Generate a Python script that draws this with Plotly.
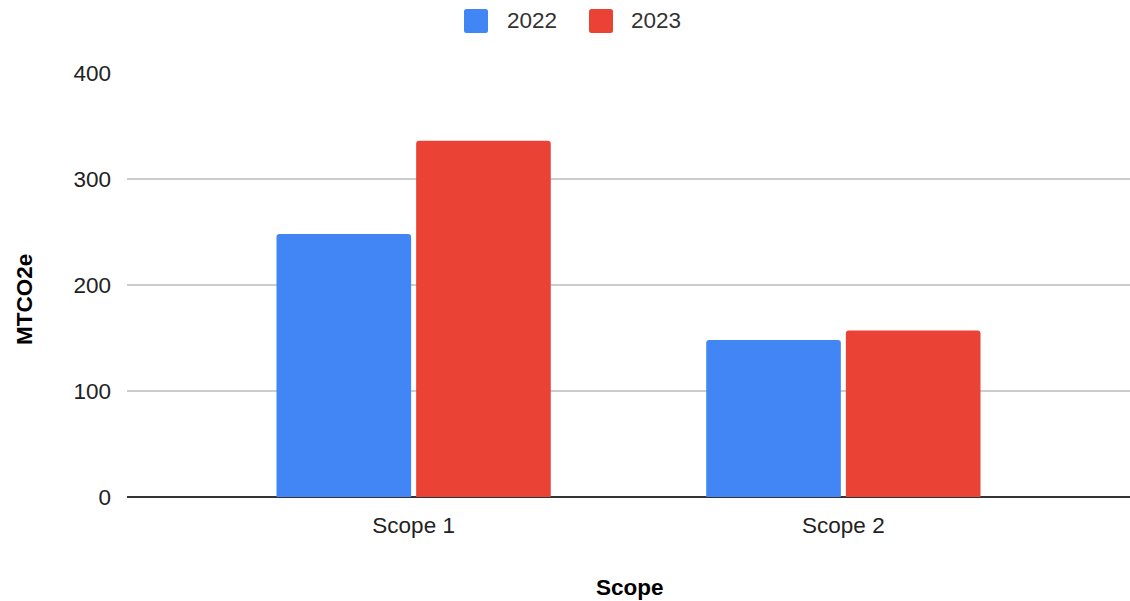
import plotly.graph_objects as go

# Emissions by scope, in metric tonnes CO2e
scopes = ["Scope 1", "Scope 2"]
years = ["2022", "2023"]
values_2022 = [248, 148]
values_2023 = [336, 157]
year_colors = ["#4285F4", "#EA4335"]

W, H = 1130, 601
M_L, M_R, M_T, M_B = 127, 0, 73, 104
PLOT_W = W - M_L - M_R
PLOT_H = H - M_T - M_B


def px_x(x):
    """Pixel column -> paper x."""
    return (x - M_L) / PLOT_W


def px_y(y):
    """Pixel row -> paper y."""
    return (H - M_B - y) / PLOT_H


fig = go.Figure()
for year, vals, color in zip(years, [values_2022, values_2023], year_colors):
    fig.add_trace(go.Bar(
        x=scopes, y=vals, name=year, showlegend=False,
        marker=dict(color=color, line=dict(width=0)),
    ))

font_family = "Liberation Sans, Arial, sans-serif"
text_color = "#222222"
fsize = 22.5

# Legend drawn as rounded swatches with labels, centred above the plot
shapes = []
annotations = []
legend_items = [(464, 505), (589, 629)]
for (sx, tx), year, color in zip(legend_items, years, year_colors):
    x0, x1, y0, y1 = px_x(sx), px_x(sx + 24), px_y(9), px_y(33)
    r = 2.5
    rx, ry = r / PLOT_W, r / PLOT_H
    path = (
        f"M {x0 + rx},{y0} L {x1 - rx},{y0} Q {x1},{y0} {x1},{y0 - ry} "
        f"L {x1},{y1 + ry} Q {x1},{y1} {x1 - rx},{y1} "
        f"L {x0 + rx},{y1} Q {x0},{y1} {x0},{y1 + ry} "
        f"L {x0},{y0 - ry} Q {x0},{y0} {x0 + rx},{y0} Z"
    )
    shapes.append(dict(type="path", xref="paper", yref="paper", path=path,
                       fillcolor=color, line=dict(width=0)))
    annotations.append(dict(
        text=year, xref="paper", yref="paper", x=px_x(tx), y=px_y(21),
        xanchor="left", yanchor="middle", showarrow=False,
        font=dict(size=fsize, color="#333333", family=font_family),
    ))

# Axis titles
annotations.append(dict(
    text="<b>Scope</b>", xref="paper", yref="paper", x=px_x(630), y=px_y(587),
    xanchor="center", yanchor="middle", showarrow=False,
    font=dict(size=fsize, color="#000000", family=font_family),
))
annotations.append(dict(
    text="<b>MTCO2e</b>", xref="paper", yref="paper", x=px_x(24), y=px_y(300),
    xanchor="center", yanchor="middle", showarrow=False, textangle=-90,
    font=dict(size=fsize, color="#000000", family=font_family),
))

fig.update_layout(
    width=W, height=H,
    margin=dict(l=M_L, r=M_R, t=M_T, b=M_B),
    paper_bgcolor="white", plot_bgcolor="white",
    font=dict(family=font_family, size=fsize, color=text_color),
    barmode="group",
    bargap=0.35,
    bargroupgap=0.036,
    barcornerradius=3,
    showlegend=False,
    shapes=shapes,
    annotations=annotations,
    xaxis=dict(
        range=[-0.667, 1.667],
        showgrid=False, showline=False, ticks="",
        ticklabelstandoff=12,
        tickfont=dict(size=fsize, color=text_color),
    ),
    yaxis=dict(
        range=[0, 400], tickvals=[0, 100, 200, 300, 400],
        showgrid=True, gridcolor="#cccccc", gridwidth=1.5,
        zeroline=True, zerolinecolor="#333333", zerolinewidth=2,
        ticks="", ticklabelstandoff=15,
        tickfont=dict(size=fsize, color=text_color),
    ),
)

fig.write_html("out.html")
